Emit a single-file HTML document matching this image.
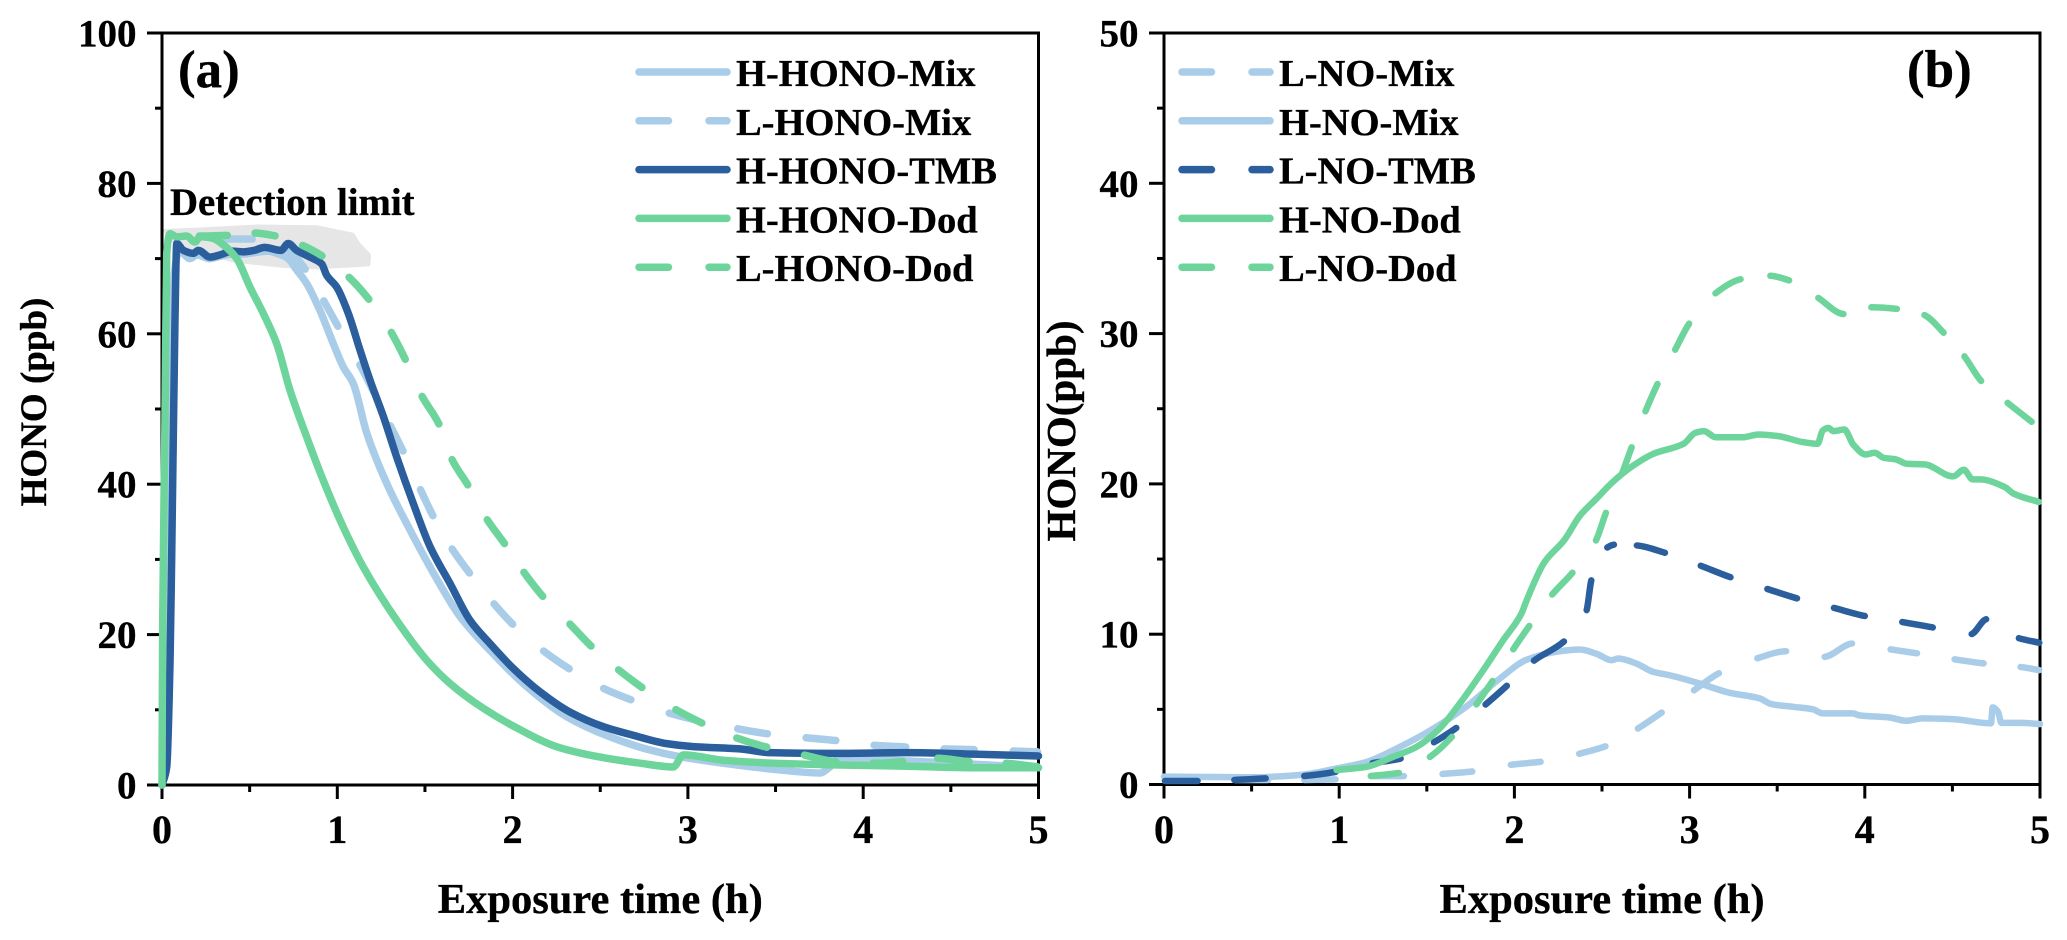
<!DOCTYPE html>
<html lang="en">
<head>
<meta charset="utf-8">
<title>HONO exposure charts</title>
<style>
html,body{margin:0;padding:0;background:#fff;width:2067px;height:940px;overflow:hidden}
svg{display:block}
text{font-family:"Liberation Serif",serif;font-weight:700;fill:#000;stroke:#000;stroke-width:.35px}
</style>
</head>
<body>
<svg id="chart" width="2067" height="940" viewBox="0 0 2067 940" xmlns="http://www.w3.org/2000/svg"></svg>
<script>
// ---------- Shared axis data ----------
const xTickLabels = [0, 1, 2, 3, 4, 5];
const xMinorTicks = [0.5, 1.5, 2.5, 3.5, 4.5];
const yTickLabelsA = [0, 20, 40, 60, 80, 100];
const yMinorTicksA = [10, 30, 50, 70, 90];
const yTickLabelsB = [0, 10, 20, 30, 40, 50];
const yMinorTicksB = [5, 15, 25, 35, 45];

// ---------- Panel (a) ----------
const hHonoMixT = [0,0.02,0.045,0.07,0.1,0.16,0.2,0.27,0.33,0.4,0.46,0.53,0.6,0.68,0.72,0.768,0.825,0.901,0.977,1.034,1.091,1.168,1.282,1.415,1.548,1.7,1.871,2.08,2.308,2.556,2.784,2.935,3.2,3.487,3.754,3.81,3.868,4.06,4.44,5];
const hHonoMixV = [0,5,30,68,71,70,70.5,70,70.3,70.6,70.6,70.8,71,70.5,70,68.5,66.7,63.1,58.7,55.6,53.4,46.8,40.1,33.9,28.2,22.4,17.9,13.1,9.1,6.4,4.65,3.85,2.9,2.1,1.6,2.4,3.6,3.4,3,2.3];
const lHonoMixT = [0,0.03,0.06,0.2,0.35,0.52,0.7,0.82,0.92,1.006,1.126,1.3,1.377,1.472,1.548,1.652,1.757,1.89,2.004,2.172,2.327,2.514,2.68,2.888,3.278,3.459,3.668,3.849,4.056,4.248,4.455,4.638,5];
const lHonoMixV = [0,30,71,72.2,72.6,72.6,71.5,68.5,64.5,60.9,56,47.9,44.3,39.4,35.7,31.5,28.1,24.2,21.3,17.9,15.4,12.9,11.3,9.6,7.5,6.8,6.3,5.9,5.3,5.05,4.8,4.7,4.4];
const lHonoMixDashes = [[0.35,0.52],[0.7,0.82],[0.92,1.006],[1.126,1.21],[1.3,1.377],[1.472,1.548],[1.652,1.757],[1.89,2.004],[2.172,2.327],[2.514,2.68],[2.888,3.05],[3.278,3.459],[3.668,3.849],[4.056,4.248],[4.455,4.638],[4.85,5]];
const hHonoTmbT = [0,0.027,0.046,0.055,0.074,0.084,0.122,0.179,0.207,0.274,0.331,0.4,0.464,0.527,0.584,0.679,0.72,0.768,0.844,0.911,0.939,0.997,1.063,1.13,1.187,1.263,1.339,1.434,1.529,1.643,1.757,1.871,2.004,2.156,2.327,2.518,2.69,2.879,3.03,3.297,3.468,3.868,4.25,4.63,5];
const hHonoTmbV = [0,2.4,16.6,29.9,61.8,72,71.1,70.7,71.1,70.2,70.5,71,70.9,71.1,71.5,71.1,72,71.1,70.2,69.3,67.8,66.2,62.7,57.8,53.8,49,43.6,37.4,31.7,26.8,21.9,18.8,15.5,12.4,9.7,7.75,6.6,5.5,5.1,4.8,4.3,4.2,4.3,4.1,3.85];
const hHonoDodT = [0,0.004,0.017,0.027,0.046,0.084,0.141,0.188,0.217,0.29,0.34,0.426,0.502,0.578,0.654,0.73,0.825,0.92,1.034,1.148,1.339,1.51,1.643,1.833,2.023,2.25,2.48,2.727,2.917,2.974,3.2,3.487,3.868,4.25,4.63,5];
const hHonoDodV = [0,21.9,48.5,70.7,73.3,72.9,73,72.2,72.9,72.7,72,70,66.2,62.7,58.7,52.5,46.3,40.5,34.3,29,21.9,16.6,13.5,10.2,7.6,5.1,3.8,2.9,2.4,4,3.3,2.9,2.66,2.5,2.3,2.3];
const lHonoDodT = [0,0.015,0.03,0.045,0.1,0.207,0.378,0.525,0.65,0.797,0.917,1.063,1.183,1.305,1.39,1.481,1.582,1.652,1.747,1.852,1.957,2.061,2.175,2.323,2.451,2.6,2.742,2.926,3.084,3.273,3.455,3.659,3.849,4.1,4.419,4.609,4.809,5];
const lHonoDodV = [0,45,70,73.4,73,73,73.1,73.4,73,71.8,70.3,67.6,64.5,60.3,56.5,51.8,47.9,43.4,39.8,35.4,32,28.4,25,21.5,18.4,15.4,12.9,10.1,8.2,6.3,5,4,3.1,2.9,3.55,3.1,2.9,2.4];
const lHonoDodDashes = [[0.207,0.378],[0.525,0.65],[0.797,0.917],[1.063,1.183],[1.305,1.39],[1.481,1.582],[1.652,1.747],[1.852,1.957],[2.061,2.175],[2.323,2.451],[2.6,2.742],[2.926,3.084],[3.273,3.455],[3.659,3.849],[4.05,4.23],[4.419,4.609],[4.809,5]];
const detectionLimitT = [0.008,0.217,0.54,0.882,1.091,1.126,1.187,1.183,0.882,0.692,0.407,0.217,0.046];
const detectionLimitV = [73.8,74,74.4,74.3,73.3,72,70.5,69.1,68.7,68.9,69.6,70.9,72.4];

// ---------- Panel (b) ----------
const lNoMixT = [0,0.4,0.795,0.985,1.175,1.375,1.584,1.765,1.974,2.155,2.364,2.525,2.7,2.845,3.02,3.172,3.381,3.556,3.765,3.932,4.141,4.303,4.506,4.683,4.883,5];
const lNoMixV = [0.3,0.3,0.3,0.34,0.56,0.56,0.7,0.87,1.3,1.52,2.03,2.56,3.69,4.82,6.23,7.43,8.38,8.87,8.49,9.38,9,8.72,8.34,8.05,7.83,7.6];
const lNoMixDashes = [[0,0.2],[0.4,0.6],[0.795,0.985],[1.175,1.375],[1.584,1.765],[1.974,2.155],[2.364,2.525],[2.7,2.845],[3.02,3.172],[3.381,3.556],[3.765,3.932],[4.141,4.303],[4.506,4.683],[4.883,5]];
const hNoMixT = [0,0.5,0.776,0.985,1.156,1.346,1.535,1.727,1.917,2.07,2.24,2.373,2.468,2.554,2.592,2.696,2.79,2.886,3.058,3.229,3.4,3.466,3.59,3.704,3.76,3.93,3.97,4.14,4.237,4.33,4.5,4.72,4.73,4.76,4.78,4.89,5];
const hNoMixV = [0.52,0.48,0.63,1.07,1.5,2.5,3.7,5.2,7.05,8.3,8.83,8.98,8.7,8.27,8.38,8.05,7.5,7.27,6.72,6.1,5.73,5.35,5.17,5,4.73,4.73,4.6,4.46,4.24,4.4,4.35,4.07,5.13,4.84,4.1,4.1,4.02];
const lNoTmbT = [0,0.197,0.396,0.586,0.795,0.985,1.185,1.356,1.536,1.673,1.831,1.961,2.107,2.287,2.411,2.44,2.525,2.573,2.693,2.864,3.058,3.238,3.438,3.618,3.818,4.005,4.208,4.393,4.604,4.697,4.873,5];
const lNoTmbV = [0.23,0.23,0.3,0.41,0.56,0.85,1.41,1.74,2.78,3.8,5.28,6.61,8.2,9.56,11.55,13.63,15.73,15.96,15.91,15.4,14.58,13.77,13.03,12.37,11.77,11.2,10.82,10.44,10,11,9.76,9.42];
const lNoTmbDashes = [[0,0.197],[0.396,0.586],[0.795,0.985],[1.185,1.356],[1.536,1.673],[1.831,1.961],[2.107,2.287],[2.411,2.44],[2.525,2.573],[2.693,2.864],[3.058,3.238],[3.438,3.618],[3.818,4.005],[4.208,4.393],[4.604,4.697],[4.873,5]];
const hNoDodT = [0.985,1.156,1.309,1.441,1.574,1.689,1.822,1.936,2.04,2.07,2.172,2.284,2.375,2.467,2.559,2.671,2.793,2.966,3.033,3.082,3.149,3.302,3.394,3.506,3.648,3.73,3.76,3.791,3.821,3.883,3.934,4.005,4.056,4.107,4.178,4.239,4.341,4.504,4.565,4.616,4.657,4.799,4.85,4.993];
const hNoDodV = [0.96,1.18,1.85,2.5,3.73,5.4,7.6,9.6,11.37,12.26,14.8,16.25,17.9,19,20.1,21.16,22,22.67,23.4,23.51,23.1,23.1,23.29,23.18,22.78,22.67,23.55,23.73,23.51,23.62,22.62,21.96,22.07,21.74,21.63,21.34,21.3,20.5,20.94,20.3,20.3,19.79,19.35,18.8];
const lNoDodT = [1.175,1.346,1.513,1.647,1.78,1.878,1.99,2.088,2.212,2.335,2.463,2.524,2.614,2.671,2.746,2.819,2.915,3,3.143,3.296,3.455,3.573,3.73,3.883,4.031,4.188,4.335,4.453,4.565,4.667,4.81,4.956,5];
const lNoDodV = [0.56,0.78,1.8,3.22,5.28,6.94,8.94,10.6,12.59,14.14,16.18,18.13,20.68,22.49,24.77,26.7,28.87,30.71,32.64,33.63,33.85,33.52,32.41,31.3,31.75,31.64,31.26,30.02,28.54,26.81,25.44,24.1,23.7];
const lNoDodDashes = [[1.175,1.346],[1.513,1.647],[1.78,1.878],[1.99,2.088],[2.212,2.335],[2.463,2.524],[2.614,2.671],[2.746,2.819],[2.915,3],[3.143,3.296],[3.455,3.573],[3.73,3.883],[4.031,4.188],[4.335,4.453],[4.565,4.667],[4.81,4.956]];

const LIGHT = '#a9cde8', DARK = '#2a5e9c', GREEN = '#6dd59b';
const NS = 'http://www.w3.org/2000/svg';
const svg = document.getElementById('chart');

function mk(tag, attrs, parent) {
  const el = document.createElementNS(NS, tag);
  for (const k in attrs) el.setAttribute(k, attrs[k]);
  (parent || svg).appendChild(el);
  return el;
}
function slug(s) { return s.toLowerCase().replace(/[^a-z0-9]+/g, '-').replace(/^-|-$/g, ''); }

// Monotone cubic path through the data points: returns one bezier string per segment.
function monotoneSegments(pts) {
  const n = pts.length, dx = [], m = [], tan = [];
  for (let i = 0; i < n - 1; i++) {
    dx[i] = pts[i + 1][0] - pts[i][0];
    m[i] = dx[i] > 0 ? (pts[i + 1][1] - pts[i][1]) / dx[i] : 0;
  }
  tan[0] = m[0];
  tan[n - 1] = m[n - 2];
  for (let i = 1; i < n - 1; i++) {
    if (m[i - 1] * m[i] <= 0) { tan[i] = 0; continue; }
    const w1 = 2 * dx[i] + dx[i - 1], w2 = dx[i] + 2 * dx[i - 1];
    tan[i] = (w1 + w2) / (w1 / m[i - 1] + w2 / m[i]);
  }
  const segs = [];
  for (let i = 0; i < n - 1; i++) {
    const h = dx[i] / 3;
    segs.push('C' + (pts[i][0] + h).toFixed(2) + ' ' + (pts[i][1] + tan[i] * h).toFixed(2) + ' ' +
      (pts[i + 1][0] - h).toFixed(2) + ' ' + (pts[i + 1][1] - tan[i + 1] * h).toFixed(2) + ' ' +
      pts[i + 1][0].toFixed(2) + ' ' + pts[i + 1][1].toFixed(2));
  }
  return segs;
}

// Arc length along the curve at time t.
function lengthAt(cum, ts, t) {
  if (t <= ts[0]) return 0;
  for (let i = 1; i < ts.length; i++) {
    if (t <= ts[i]) return cum[i - 1] + (cum[i] - cum[i - 1]) * (t - ts[i - 1]) / (ts[i] - ts[i - 1]);
  }
  return cum[cum.length - 1];
}

function drawPanel(p) {
  const g = mk('g', {});
  
  
  const sx = t => p.x0 + (t / 5) * (p.x1 - p.x0);
  const sy = v => p.y0 - (v / p.yMax) * (p.y0 - p.y1);

  if (p.region) {
    const d = p.region.t.map((t, i) => sx(t) + ',' + sy(p.region.v[i])).join(' ');
    const blob = mk('polygon', { points: d, fill: '#e6e6e6', stroke: '#e6e6e6', 'stroke-width': 2, 'stroke-linejoin': 'round' }, g);
    
    
  }

  const frame = mk('rect', { x: p.x0, y: p.y1, width: p.x1 - p.x0, height: p.y0 - p.y1, fill: 'none', stroke: '#000', 'stroke-width': 3 }, g);
  
  

  xTickLabels.forEach(t => {
    const tick = mk('line', { x1: sx(t), x2: sx(t), y1: p.y0, y2: p.y0 + 14, stroke: '#000', 'stroke-width': 3 }, g);
    
    
    const lab = mk('text', { x: sx(t), y: 843, 'text-anchor': 'middle', 'font-size': 40 }, g);
    lab.textContent = t;
    
    
  });
  xMinorTicks.forEach(t => {
    const tick = mk('line', { x1: sx(t), x2: sx(t), y1: p.y0, y2: p.y0 + 7, stroke: '#000', 'stroke-width': 3 }, g);
    
    
  });
  p.yTicks.forEach(v => {
    const tick = mk('line', { x1: p.x0 - 15, x2: p.x0, y1: sy(v), y2: sy(v), stroke: '#000', 'stroke-width': 3 }, g);
    
    
    const lab = mk('text', { x: p.x0 - 25.5, y: sy(v) + 13.5, 'text-anchor': 'end', 'font-size': 39 }, g);
    lab.textContent = v;
    
    
  });
  p.yMinor.forEach(v => {
    const tick = mk('line', { x1: p.x0 - 7, x2: p.x0, y1: sy(v), y2: sy(v), stroke: '#000', 'stroke-width': 3 }, g);
    
    
  });

  p.series.forEach(s => {
    const pts = s.t.map((t, i) => [sx(t), sy(s.v[i])]);
    const segs = monotoneSegments(pts);
    const start = 'M' + pts[0][0].toFixed(2) + ' ' + pts[0][1].toFixed(2);
    const attrs = {
      d: start + segs.join(''),
      fill: 'none', stroke: s.color, 'stroke-width': p.lineWidth,
      'stroke-linejoin': 'round', 'stroke-linecap': 'round'
    };
    const line = mk('path', attrs, g);
    
    
    if (s.dashes) {
      // Cumulative curve length at every data point, measured on the drawn curve.
      const cum = [0];
      const probe = mk('path', { fill: 'none' }, g);
      segs.forEach((seg, i) => {
        probe.setAttribute('d', 'M' + pts[i][0].toFixed(2) + ' ' + pts[i][1].toFixed(2) + seg);
        cum.push(cum[i] + probe.getTotalLength());
      });
      g.removeChild(probe);
      const capInset = 1;
      const pattern = [];
      let prevEnd = null, firstStart = 0;
      s.dashes.forEach((dash, i) => {
        const a = lengthAt(cum, s.t, dash[0]) + capInset;
        const b = Math.max(a + 0.5, lengthAt(cum, s.t, dash[1]) - capInset);
        if (i === 0) firstStart = a;
        else pattern.push((a - prevEnd).toFixed(2));
        pattern.push((b - a).toFixed(2));
        prevEnd = b;
      });
      pattern.push('5000');
      line.setAttribute('stroke-dasharray', pattern.join(' '));
      line.setAttribute('stroke-dashoffset', (-firstStart).toFixed(2));
    }
  });

  p.series.forEach((s, i) => {
    const y = 72 + i * 48.8;
    const attrs = { x1: p.legendX, x2: p.legendX + 88, y1: y, y2: y, stroke: s.color, 'stroke-width': 7.5, 'stroke-linecap': 'round' };
    if (s.dashes) attrs['stroke-dasharray'] = '29.5 40.5';
    const key = mk('line', attrs, g);
    
    
    const lab = mk('text', { x: p.legendX + 97, y: y + 14, 'font-size': p.legendFont }, g);
    lab.textContent = s.name;
    
    
  });

  const xt = mk('text', { x: (p.x0 + p.x1) / 2, y: 913, 'text-anchor': 'middle', 'font-size': 42.5 }, g);
  xt.textContent = 'Exposure time (h)';
  
  

  const yt = mk('text', { transform: 'translate(' + p.yTitleX + ',' + p.yTitleY + ') rotate(-90)', 'text-anchor': 'middle', 'font-size': p.yTitleFont }, g);
  yt.textContent = p.yTitle;
  
  

  const tag = mk('text', { x: p.tagX, y: 87, 'font-size': 53 }, g);
  tag.textContent = '(' + p.id + ')';
  
  

  if (p.note) {
    const n = mk('text', { x: 170, y: 215, 'font-size': 38.8 }, g);
    n.textContent = p.note;
    
    
  }
}

drawPanel({
  id: 'a', x0: 162, x1: 1038.5, y0: 785, y1: 33, yMax: 100,
  yTicks: yTickLabelsA, yMinor: yMinorTicksA, lineWidth: 7.5,
  legendX: 639, legendFont: 38.5, tagX: 178, yTitle: 'HONO (ppb)', yTitleFont: 37, yTitleX: 46, yTitleY: 402,
  note: 'Detection limit',
  region: { t: detectionLimitT, v: detectionLimitV },
  series: [
    { name: 'H-HONO-Mix', t: hHonoMixT, v: hHonoMixV, color: LIGHT },
    { name: 'L-HONO-Mix', t: lHonoMixT, v: lHonoMixV, color: LIGHT, dashes: lHonoMixDashes },
    { name: 'H-HONO-TMB', t: hHonoTmbT, v: hHonoTmbV, color: DARK },
    { name: 'H-HONO-Dod', t: hHonoDodT, v: hHonoDodV, color: GREEN },
    { name: 'L-HONO-Dod', t: lHonoDodT, v: lHonoDodV, color: GREEN, dashes: lHonoDodDashes }
  ]
});

drawPanel({
  id: 'b', x0: 1164, x1: 2040, y0: 784.5, y1: 33, yMax: 50,
  yTicks: yTickLabelsB, yMinor: yMinorTicksB, lineWidth: 6.5,
  legendX: 1182, legendFont: 38.5, tagX: 1907, yTitle: 'HONO(ppb)', yTitleFont: 41, yTitleX: 1075, yTitleY: 431,
  series: [
    { name: 'L-NO-Mix', t: lNoMixT, v: lNoMixV, color: LIGHT, dashes: lNoMixDashes },
    { name: 'H-NO-Mix', t: hNoMixT, v: hNoMixV, color: LIGHT },
    { name: 'L-NO-TMB', t: lNoTmbT, v: lNoTmbV, color: DARK, dashes: lNoTmbDashes },
    { name: 'H-NO-Dod', t: hNoDodT, v: hNoDodV, color: GREEN },
    { name: 'L-NO-Dod', t: lNoDodT, v: lNoDodV, color: GREEN, dashes: lNoDodDashes }
  ]
});
</script>
</body>
</html>
